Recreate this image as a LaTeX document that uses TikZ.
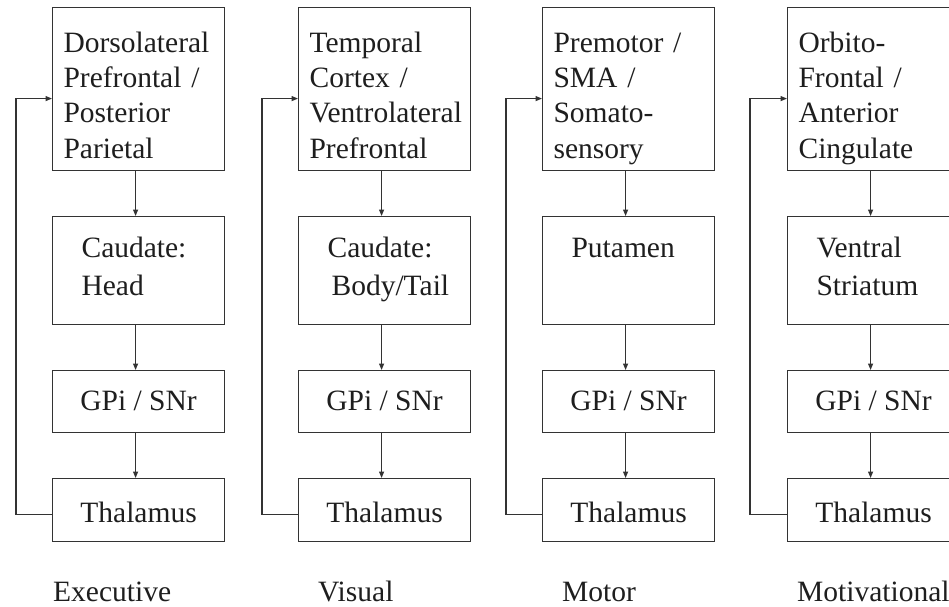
\documentclass[tikz,border=0pt]{standalone}
\usepackage{fontspec}
\setmainfont{Liberation Serif}
\usetikzlibrary{arrows.meta}
\hyphenpenalty=10000
\exhyphenpenalty=10000
\definecolor{ink}{HTML}{333333}
\definecolor{txt}{HTML}{1E1E1E}
\begin{document}
\begin{tikzpicture}[x=1pt,y=-1pt,
  box/.style={draw=ink, line width=1.15pt, text=txt, inner ysep=0pt,
    anchor=north west, font=\fontsize{29.5}{35.4}\selectfont},
  cortex/.style={box, inner xsep=11pt, text width=150pt, align=left,
    text height=44.5pt, text depth=118.5pt},
  striatum/.style={box, inner xsep=29pt, text width=114pt, align=left,
    font=\fontsize{29.5}{38}\selectfont, text height=41pt, text depth=67pt},
  pallidum/.style={box, inner xsep=0pt, minimum width=172pt,
    text height=40pt, text depth=22pt},
  thalamus/.style={box, inner xsep=0pt, minimum width=172pt,
    text height=44pt, text depth=19pt},
  loopname/.style={anchor=base west, inner sep=0pt, text=txt,
    font=\fontsize{29.5}{35.4}\selectfont},
  flow/.style={draw=ink, line width=1.15pt, -{Triangle[length=6.5pt,width=5pt]}},
]
\clip (0,0) rectangle (949,606);
\fill[white] (0,0) rectangle (949,606);

% ---- Executive loop ----
\node[cortex]   (ctxA) at (52,7)   {Dorsolateral\\Prefrontal /\\Posterior\\Parietal};
\node[striatum] (strA) at (52,216) {Caudate:\\Head};
\node[pallidum] (gpA)  at (52,370) {GPi / SNr};
\node[thalamus] (thA)  at (52,478) {Thalamus};
\coordinate (fbA) at (16,300);

% ---- Visual loop ----
\node[cortex]   (ctxB) at (298,7)   {Temporal\\Cortex /\\\mbox{Ventrolateral}\\Prefrontal};
\node[striatum] (strB) at (298,216) {Caudate:\\\hspace*{4pt}Body/Tail};
\node[pallidum] (gpB)  at (298,370) {GPi / SNr};
\node[thalamus] (thB)  at (298,478) {Thalamus};
\coordinate (fbB) at (262,300);

% ---- Motor loop ----
\node[cortex]   (ctxC) at (542,7)   {Premotor /\\SMA /\\Somato-\\sensory};
\node[striatum] (strC) at (542,216) {Putamen};
\node[pallidum] (gpC)  at (542,370) {GPi / SNr};
\node[thalamus] (thC)  at (542,478) {Thalamus};
\coordinate (fbC) at (506,300);

% ---- Motivational loop ----
\node[cortex]   (ctxD) at (787,7)   {Orbito-\\Frontal /\\Anterior\\Cingulate};
\node[striatum] (strD) at (787,216) {Ventral\\Striatum};
\node[pallidum] (gpD)  at (787,370) {GPi / SNr};
\node[thalamus] (thD)  at (787,478) {Thalamus};
\coordinate (fbD) at (750,300);

% descending pathway and thalamo-cortical return in each loop
\foreach \k in {A,B,C,D}{
  \draw[flow] ([xshift=-3pt]ctx\k.south) -- ([xshift=-3pt]str\k.north);
  \draw[flow] ([xshift=-3pt]str\k.south) -- ([xshift=-3pt]gp\k.north);
  \draw[flow] ([xshift=-3pt]gp\k.south)  -- ([xshift=-3pt]th\k.north);
  \draw[flow] ([yshift=-4.5pt]th\k.west) -| (fb\k) |- ([yshift=-9.5pt]ctx\k.west);
}

% loop names
\node[loopname] (nA) at (53,601)  {Executive};
\node[loopname] (nB) at (318,601) {Visual};
\node[loopname] (nC) at (562,601) {Motor};
\node[loopname] (nD) at (797,601) {Motivational};
\end{tikzpicture}
\end{document}
